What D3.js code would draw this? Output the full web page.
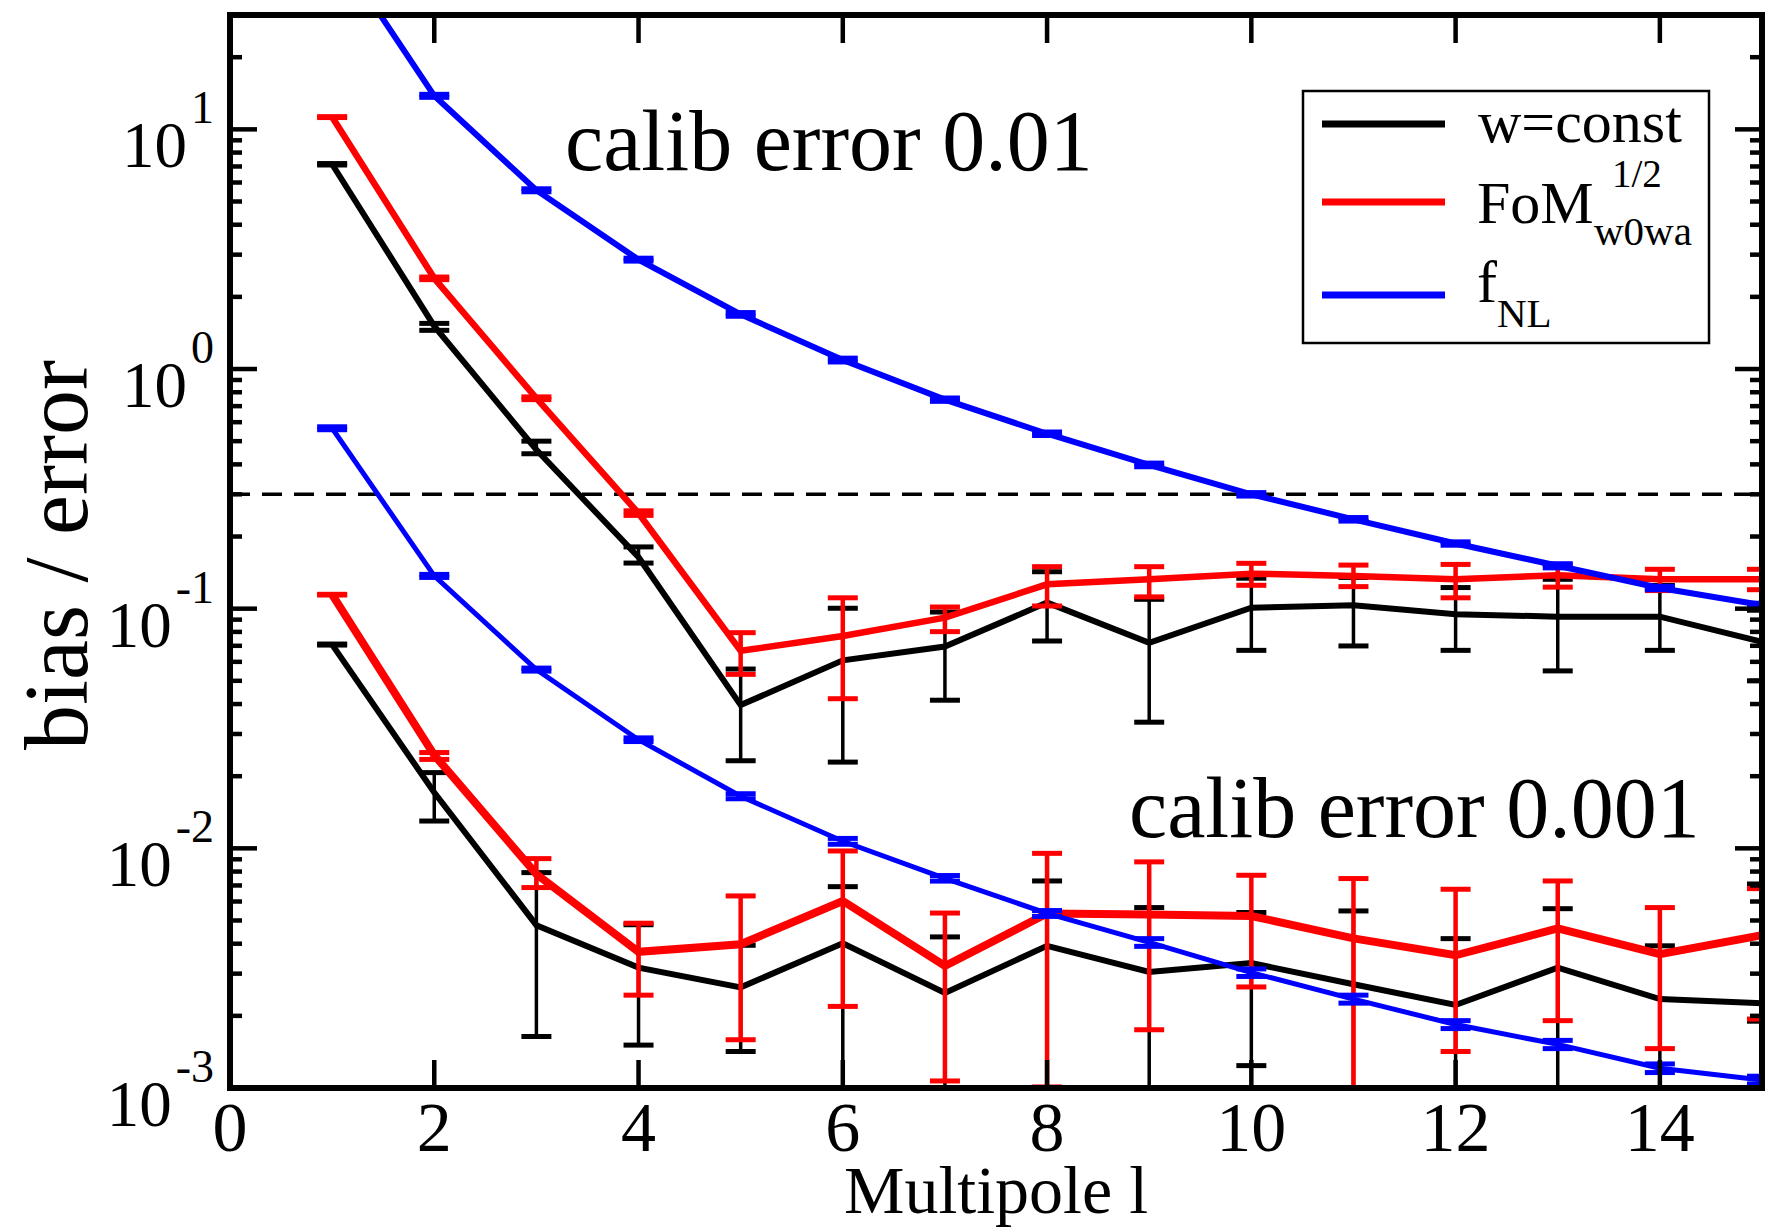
<!DOCTYPE html>
<html>
<head>
<meta charset="utf-8">
<script src="https://cdn.jsdelivr.net/npm/d3@7"></script>
<style>
  body { margin: 0; background: #fff; }
  svg { display: block; }
  text { font-family: "Liberation Serif", "Times New Roman", Times, serif; fill: #000; }
</style>
</head>
<body>
<svg id="chart" width="1777" height="1229"></svg>
<script>
// Multipole values
const multipoles = [1, 2, 3, 4, 5, 6, 7, 8, 9, 10, 11, 12, 13, 14, 15];

// calib error 0.01 — w=const
const wconst01   = [7.15, 1.51, 0.46, 0.164, 0.0396, 0.0609, 0.0695, 0.106, 0.0721, 0.101, 0.1033, 0.0948, 0.0926, 0.0926, 0.0728];
const wconst01Lo = [7.1, 1.45, 0.443, 0.155, 0.0232, 0.0229, 0.0415, 0.0733, 0.0336, 0.067, 0.0699, 0.067, 0.055, 0.067, 0.05];
const wconst01Hi = [7.2, 1.55, 0.50, 0.181, 0.056, 0.1004, 0.0968, 0.1426, 0.1094, 0.134, 0.135, 0.1225, 0.1326, 0.125, 0.0985];

// calib error 0.01 — FoM^1/2 (w0wa)
const fom01   = [11.25, 2.39, 0.755, 0.25, 0.0667, 0.0769, 0.0917, 0.1264, 0.1327, 0.140, 0.137, 0.1326, 0.138, 0.1326, 0.1326];
const fom01Lo = [11.2, 2.36, 0.745, 0.245, 0.0532, 0.0421, 0.0802, 0.1026, 0.112, 0.1252, 0.1236, 0.111, 0.123, 0.119, 0.12];
const fom01Hi = [11.3, 2.42, 0.765, 0.256, 0.0794, 0.111, 0.1016, 0.1497, 0.1497, 0.1546, 0.152, 0.153, 0.153, 0.146, 0.146];

// calib error 0.01 — fNL
const fnl01   = [60, 13.8, 5.57, 2.86, 1.69, 1.09, 0.745, 0.537, 0.398, 0.300, 0.236, 0.187, 0.151, 0.122, 0.1036];
const fnl01Lo = [59, 13.6, 5.49, 2.82, 1.66, 1.07, 0.733, 0.528, 0.391, 0.295, 0.232, 0.184, 0.148, 0.120, 0.1018];
const fnl01Hi = [61, 14.0, 5.65, 2.90, 1.72, 1.11, 0.757, 0.546, 0.405, 0.305, 0.240, 0.190, 0.154, 0.124, 0.1054];

// calib error 0.001 — w=const
const wconst001   = [0.0708, 0.0171, 0.00478, 0.00318, 0.00263, 0.00402, 0.00249, 0.00392, 0.00305, 0.00332, 0.00271, 0.00222, 0.00318, 0.00235, 0.00226];
const wconst001Lo = [0.0705, 0.0130, 0.00164, 0.00151, 0.00142, 0.0005, 0.0005, 0.0005, 0.0005, 0.00124, 0.0005, 0.0005, 0.0005, 0.0005, 0.0019];
const wconst001Hi = [0.0712, 0.0207, 0.00792, 0.0048, 0.00394, 0.00692, 0.00427, 0.00731, 0.00566, 0.0054, 0.00548, 0.0042, 0.0056, 0.00392, 0.0071];

// calib error 0.001 — FoM^1/2 (w0wa)
const fom001   = [0.1144, 0.0245, 0.0078, 0.0037, 0.00398, 0.00603, 0.00323, 0.00535, 0.0053, 0.00522, 0.00421, 0.00358, 0.00463, 0.00362, 0.00434];
const fom001Lo = [0.114, 0.0235, 0.00686, 0.00244, 0.00159, 0.00219, 0.00107, 0.00101, 0.00175, 0.00264, 0.0005, 0.00142, 0.00191, 0.00146, 0.00194];
const fom001Hi = [0.1148, 0.0251, 0.00906, 0.00487, 0.00633, 0.00975, 0.00537, 0.00953, 0.00878, 0.00772, 0.00748, 0.00675, 0.00731, 0.00566, 0.00679];

// calib error 0.001 — fNL
const fnl001   = [0.566, 0.137, 0.0557, 0.0284, 0.0165, 0.0107, 0.0075, 0.00535, 0.00405, 0.00303, 0.00235, 0.00184, 0.00152, 0.00121, 0.00108];
const fnl001Lo = [0.558, 0.135, 0.0549, 0.0279, 0.0161, 0.0104, 0.0073, 0.0052, 0.0039, 0.00292, 0.00226, 0.00177, 0.00146, 0.00116, 0.00104];
const fnl001Hi = [0.574, 0.139, 0.0565, 0.0289, 0.0169, 0.0110, 0.0077, 0.0055, 0.0042, 0.00314, 0.00244, 0.00191, 0.00158, 0.00126, 0.00112];

// Threshold marked by the dashed line
const threshold = 0.3;

// Axis ticks
const xTickValues = [0, 2, 4, 6, 8, 10, 12, 14];
const yTickExponents = [-3, -2, -1, 0, 1];

// Annotations and legend
const annotations = [
  { text: "calib error 0.01",  x: 565,  y: 170 },
  { text: "calib error 0.001", x: 1129, y: 837 }
];
const legendNames = ["w=const", "FoM", "f"];
const legendColors = ["#000000", "#ff0000", "#0000ff"];

// ---------------------------------------------------------------
const svg = d3.select("#chart");
const M = { left: 230, right: 1762, top: 15, bottom: 1088 };

const x = d3.scaleLinear().domain([0, 15]).range([M.left, M.right]);
const y = d3.scaleLog().domain([1e-3, 30]).range([M.bottom, M.top]);

svg.append("rect").attr("width", 1777).attr("height", 1229).attr("fill", "#fff");

svg.append("defs").append("clipPath").attr("id", "plotClip")
  .append("rect")
  .attr("x", M.left).attr("y", M.top)
  .attr("width", M.right - M.left).attr("height", M.bottom - M.top);

const plot = svg.append("g").attr("clip-path", "url(#plotClip)");

// dashed threshold line
plot.append("line")
  .attr("x1", x(0)).attr("x2", x(15))
  .attr("y1", y(threshold)).attr("y2", y(threshold))
  .attr("stroke", "#000").attr("stroke-width", 3.5)
  .attr("stroke-dasharray", "20,12");

const series = [
  { vals: wconst01,  lo: wconst01Lo,  hi: wconst01Hi,  color: legendColors[0], lw: 6,   bw: 3.5 },
  { vals: fom01,     lo: fom01Lo,     hi: fom01Hi,     color: legendColors[1], lw: 6.5, bw: 4.5 },
  { vals: wconst001, lo: wconst001Lo, hi: wconst001Hi, color: legendColors[0], lw: 6,   bw: 3.5 },
  { vals: fom001,    lo: fom001Lo,    hi: fom001Hi,    color: legendColors[1], lw: 8,   bw: 4.5 },
  { vals: fnl01,     lo: fnl01Lo,     hi: fnl01Hi,     color: legendColors[2], lw: 6,   bw: 4 },
  { vals: fnl001,    lo: fnl001Lo,    hi: fnl001Hi,    color: legendColors[2], lw: 5,   bw: 4 }
];

const capHalf = 15;
const line = d3.line().x(d => x(d.l)).y(d => y(d.v));

series.forEach(s => {
  const pts = multipoles.map((l, i) => ({ l, v: s.vals[i], lo: s.lo[i], hi: s.hi[i] }));
  const g = plot.append("g");
  // error bars
  const bars = g.selectAll("g.bar").data(pts).join("g").attr("class", "bar");
  bars.append("line")
    .attr("x1", d => x(d.l)).attr("x2", d => x(d.l))
    .attr("y1", d => y(d.lo)).attr("y2", d => y(d.hi))
    .attr("stroke", s.color).attr("stroke-width", s.bw);
  ["lo", "hi"].forEach(k => {
    bars.append("line")
      .attr("x1", d => x(d.l) - capHalf).attr("x2", d => x(d.l) + capHalf)
      .attr("y1", d => y(d[k])).attr("y2", d => y(d[k]))
      .attr("stroke", s.color).attr("stroke-width", 5);
  });
  // connecting line
  g.append("path").datum(pts)
    .attr("d", line)
    .attr("fill", "none").attr("stroke", s.color)
    .attr("stroke-width", s.lw).attr("stroke-linejoin", "miter");
});

// ---------------------------------------------------------------
// axes: inward ticks on all four sides
const axes = svg.append("g").attr("stroke", "#000").attr("stroke-width", 4.5);
const majorX = 28;
xTickValues.forEach(v => {
  axes.append("line").attr("x1", x(v)).attr("x2", x(v)).attr("y1", M.bottom).attr("y2", M.bottom - majorX);
  axes.append("line").attr("x1", x(v)).attr("x2", x(v)).attr("y1", M.top).attr("y2", M.top + majorX);
});
const yTicks = y.ticks().filter(v => v >= 1e-3 && v <= 30);
yTicks.forEach(v => {
  const lg = Math.log10(v);
  const major = Math.abs(lg - Math.round(lg)) < 1e-9;
  const len = major ? 27 : 12;
  axes.append("line").attr("x1", M.left).attr("x2", M.left + len).attr("y1", y(v)).attr("y2", y(v));
  axes.append("line").attr("x1", M.right).attr("x2", M.right - len).attr("y1", y(v)).attr("y2", y(v));
});

svg.append("rect")
  .attr("x", M.left).attr("y", M.top)
  .attr("width", M.right - M.left).attr("height", M.bottom - M.top)
  .attr("fill", "none").attr("stroke", "#000").attr("stroke-width", 6);

// x tick labels
svg.append("g").selectAll("text").data(xTickValues).join("text")
  .attr("x", d => x(d)).attr("y", 1151)
  .attr("text-anchor", "middle").attr("font-size", 70)
  .text(d => d);

// y tick labels: 10 with superscript exponent
yTickExponents.forEach(e => {
  const t = svg.append("text")
    .attr("x", 214).attr("y", y(Math.pow(10, e)) + 38)
    .attr("text-anchor", "end");
  t.append("tspan").attr("font-size", 65).text("10");
  t.append("tspan").attr("font-size", 46).attr("dy", -44).attr("dx", 4).text(e < 0 ? "-" + (-e) : String(e));
});

// axis titles
svg.append("text")
  .attr("transform", "translate(87,555) rotate(-90)")
  .attr("text-anchor", "middle").attr("font-size", 90)
  .text("bias / error");
svg.append("text")
  .attr("x", (M.left + M.right) / 2).attr("y", 1213)
  .attr("text-anchor", "middle").attr("font-size", 68)
  .text("Multipole l");

// annotations
svg.append("g").selectAll("text").data(annotations).join("text")
  .attr("x", d => d.x).attr("y", d => d.y)
  .attr("font-size", 86)
  .text(d => d.text);

// ---------------------------------------------------------------
// legend
const lg = svg.append("g");
lg.append("rect")
  .attr("x", 1303).attr("y", 91).attr("width", 406).attr("height", 252)
  .attr("fill", "#fff").attr("stroke", "#000").attr("stroke-width", 2.5);
const legendY = [124, 202, 295];
legendColors.forEach((c, i) => {
  lg.append("line")
    .attr("x1", 1322).attr("x2", 1445)
    .attr("y1", legendY[i]).attr("y2", legendY[i])
    .attr("stroke", c).attr("stroke-width", 7);
});
lg.append("text").attr("x", 1478).attr("y", 142).attr("font-size", 60).text(legendNames[0]);
lg.append("text").attr("x", 1477).attr("y", 223).attr("font-size", 60).text(legendNames[1]);
lg.append("text").attr("x", 1594).attr("y", 245).attr("font-size", 41).text("w0wa");
lg.append("text").attr("x", 1612).attr("y", 187).attr("font-size", 39).text("1/2");
lg.append("text").attr("x", 1477).attr("y", 302).attr("font-size", 60).text(legendNames[2]);
lg.append("text").attr("x", 1497).attr("y", 327).attr("font-size", 41).text("NL");
</script>
</body>
</html>
